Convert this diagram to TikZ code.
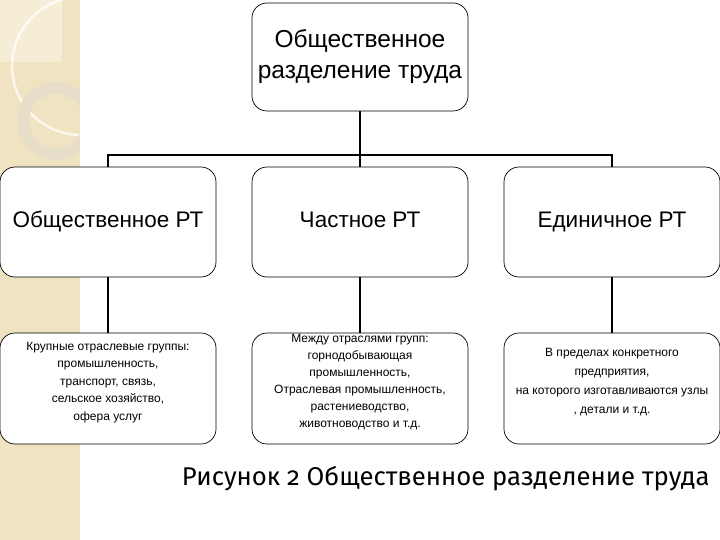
\documentclass[tikz,border=0pt]{standalone}
\usepackage{fontspec}
\setmainfont{Liberation Sans}
\newfontfamily\capfont[Numbers=OldStyle]{Fira Sans}
\usepackage{tikz}
\usetikzlibrary{calc,positioning}

\definecolor{strip}{RGB}{240,227,193}
\definecolor{stripl}{RGB}{246,237,214}
\definecolor{ringc}{RGB}{230,222,201}
\newcommand{\lowpad}{\rule[-15pt]{0pt}{0pt}}

\begin{document}
\begin{tikzpicture}[x=1pt,y=-1pt,
    box/.style={draw,rounded corners=15pt,fill=white,line width=0.7pt,
      minimum width=216pt,align=center,inner sep=0pt},
    bigbox/.style={box,minimum height=110pt,font=\fontsize{22.5}{31}\selectfont,
      text height=16pt,text depth=5pt},
    smallbox/.style={box,minimum height=111pt,font=\fontsize{12}{17.5}\selectfont},
    link/.style={line width=1.7pt}]
    \useasboundingbox (0,0) rectangle (720,540);

    % background strip
    \fill[strip] (0,0) rectangle (80,540);
    \fill[stripl] (0,0) rectangle (62,62);
    \begin{scope}
      \clip (0,0) rectangle (80,540);
      \draw[white,opacity=0.75,line width=2.5pt] (81,66) circle (69);
      \draw[ringc,line width=12pt] (56,121) circle (33);
    \end{scope}

    \coordinate (t) at (360,57);
    \coordinate (bus) at (360,155);

    \node (top) [box,minimum height=108pt,font=\fontsize{24.5}{31}\selectfont] at (t)
      {Общественное\\разделение труда};

    \node (soc) [bigbox] at (108,222) {Общественное РТ};
    \node (pri) [bigbox] at (360,222) {Частное РТ};
    \node (uni) [bigbox] at (612,222) {Единичное РТ};

    \node (socd) [smallbox] at (108,388.5) {Крупные отраслевые группы:\\промышленность,\\транспорт, связь,\\сельское хозяйство,\\офера услуг\lowpad};
    \node (prid) [smallbox,font=\fontsize{12}{17}\selectfont] at (360,388.5) {Между отраслями групп:\\горнодобывающая\\промышленность,\\Отраслевая промышленность,\\растениеводство,\\животноводство и т.д.\lowpad};
    \node (unid) [smallbox,font=\fontsize{12}{19}\selectfont] at (612,388.5) {В пределах конкретного\\предприятия,\\на которого изготавливаются узлы\\, детали и т.д.\lowpad};

    \draw[link] (top.south) -- (bus) -| (soc.north);
    \draw[link] (bus) -| (uni.north);
    \draw[link] (bus) -- (pri.north);

    \draw[link] (soc.south) -- (socd.north);
    \draw[link] (pri.south) -- (prid.north);
    \draw[link] (uni.south) -- (unid.north);

    \node (cap) [anchor=east,font=\capfont\fontsize{25.7}{30}\selectfont] at (713,479)
      {Рисунок 2 Общественное разделение труда};

\end{tikzpicture}
\end{document}
